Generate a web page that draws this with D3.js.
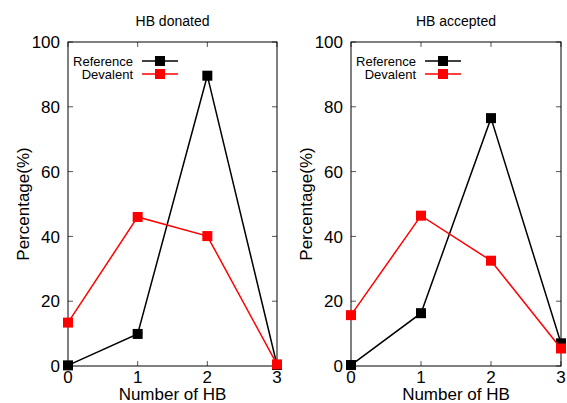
<!DOCTYPE html>
<html>
<head>
<meta charset="utf-8">
<script src="https://cdn.jsdelivr.net/npm/d3@7"></script>
<style>
  body { margin: 0; background: #fff; }
  svg { display: block; font-family: "Liberation Sans", Arial, sans-serif; }
</style>
</head>
<body>
<svg id="chart" width="567" height="403"></svg>
<script>
// values
var hbCounts = [0, 1, 2, 3];
var yTicks = [0, 20, 40, 60, 80, 100];
var seriesNames = ["Reference", "Devalent"];
var seriesColors = ["#000000", "#ff0000"];
var donatedReference = [0.2, 9.9, 89.6, 0.3];
var donatedDevalent = [13.4, 46.0, 40.1, 0.5];
var acceptedReference = [0.3, 16.3, 76.5, 7.0];
var acceptedDevalent = [15.7, 46.4, 32.5, 5.4];

(function () {
  var panels = [
    { title: "HB donated", left: 68, right: 277, series: [donatedReference, donatedDevalent] },
    { title: "HB accepted", left: 351, right: 561, series: [acceptedReference, acceptedDevalent] }
  ];

  var svg = d3.select("#chart");
  var plotTop = 42, plotBottom = 366, tick = 5, mk = 10;

  panels.forEach(function (p) {
    var g = svg.append("g");
    var x = d3.scaleLinear().domain([0, 3]).range([p.left, p.right]);
    var y = d3.scaleLinear().domain([0, 100]).range([plotBottom, plotTop]);
    var cx = (p.left + p.right) / 2;

    // inward ticks on all four sides
    yTicks.forEach(function (v) {
      g.append("line").attr("x1", p.left).attr("x2", p.left + tick)
        .attr("y1", y(v)).attr("y2", y(v)).attr("stroke", "#555");
      g.append("line").attr("x1", p.right).attr("x2", p.right - tick)
        .attr("y1", y(v)).attr("y2", y(v)).attr("stroke", "#555");
      g.append("text").attr("x", p.left - 8).attr("y", y(v)).attr("dy", "0.36em")
        .attr("text-anchor", "end").attr("font-size", 17).text(v);
    });
    hbCounts.forEach(function (v) {
      g.append("line").attr("x1", x(v)).attr("x2", x(v))
        .attr("y1", plotBottom).attr("y2", plotBottom - tick).attr("stroke", "#555");
      g.append("line").attr("x1", x(v)).attr("x2", x(v))
        .attr("y1", plotTop).attr("y2", plotTop + tick).attr("stroke", "#555");
      g.append("text").attr("x", x(v)).attr("y", 383)
        .attr("text-anchor", "middle").attr("font-size", 17).text(v);
    });

    g.append("rect").attr("x", p.left).attr("y", plotTop)
      .attr("width", p.right - p.left).attr("height", plotBottom - plotTop)
      .attr("fill", "none").attr("stroke", "#000").attr("stroke-width", 1);

    g.append("text").attr("x", cx).attr("y", 26).attr("text-anchor", "middle")
      .attr("font-size", 14).text(p.title);
    g.append("text").attr("x", cx).attr("y", 400).attr("text-anchor", "middle")
      .attr("font-size", 17).text("Number of HB");
    g.append("text")
      .attr("transform", "translate(" + (p.left - 45) + "," + ((plotTop + plotBottom) / 2) + ") rotate(-90)")
      .attr("dy", "0.36em").attr("text-anchor", "middle").attr("font-size", 17).text("Percentage(%)");

    var line = d3.line().x(function (d, i) { return x(hbCounts[i]); }).y(function (d) { return y(d); });
    p.series.forEach(function (vals, si) {
      var c = seriesColors[si];
      g.append("path").datum(vals).attr("d", line).attr("fill", "none")
        .attr("stroke", c).attr("stroke-width", 1.5);
      g.selectAll(null).data(vals).enter().append("rect")
        .attr("x", function (d, i) { return x(hbCounts[i]) - mk / 2; })
        .attr("y", function (d) { return y(d) - mk / 2; })
        .attr("width", mk).attr("height", mk).attr("fill", c);

      // legend
      var ly = 61 + si * 13;
      g.append("text").attr("x", p.left + 65).attr("y", ly).attr("dy", "0.36em")
        .attr("text-anchor", "end").attr("font-size", 13).text(seriesNames[si]);
      g.append("line").attr("x1", p.left + 74).attr("x2", p.left + 110)
        .attr("y1", ly).attr("y2", ly).attr("stroke", c).attr("stroke-width", 1.5);
      g.append("rect").attr("x", p.left + 92 - mk / 2).attr("y", ly - mk / 2)
        .attr("width", mk).attr("height", mk).attr("fill", c);
    });
  });
})();
</script>
</body>
</html>
